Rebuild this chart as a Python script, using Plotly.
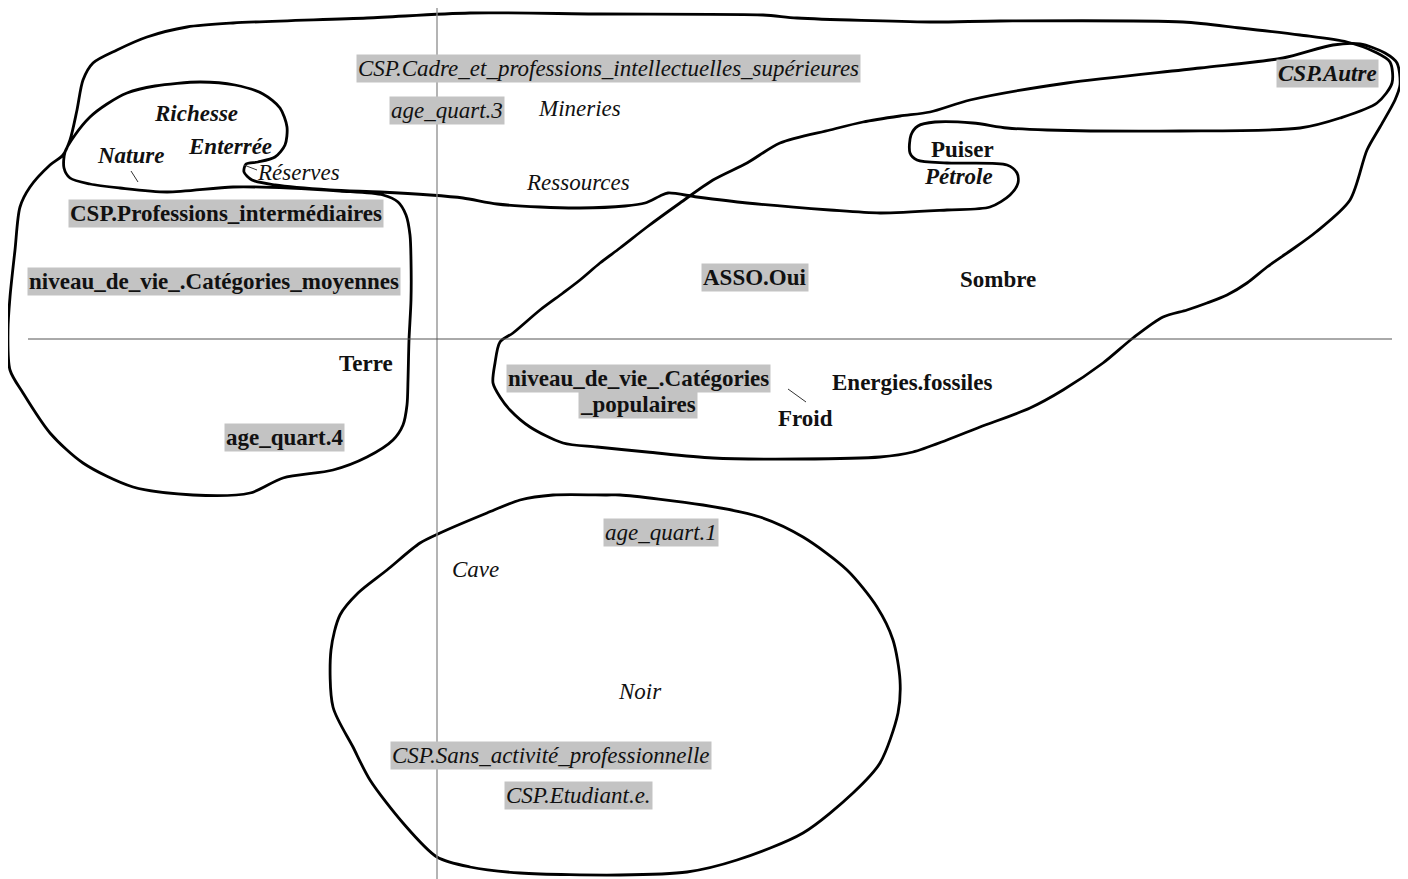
import plotly.graph_objects as go

# positions (picture units, y grows downward)
origin = (437, 339)

# words: bold / bold italic / italic
bold_words = ["Puiser", "Sombre", "Terre", "Energies.fossiles", "Froid"]
bold_words_x = [962, 998, 366, 912, 805]
bold_words_y = [149, 279, 363, 382, 418]

bolditalic_words = ["Richesse", "Enterrée", "Nature", "Pétrole"]
bolditalic_words_x = [196, 230, 130, 958]
bolditalic_words_y = [113, 146, 155, 176]

italic_words = ["Mineries", "Réserves", "Ressources", "Cave", "Noir"]
italic_words_x = [579, 298, 578, 475, 640]
italic_words_y = [108, 172, 182, 569, 691]

# modalities (highlighted)
bold_mods = ["CSP.Professions_intermédiaires", "niveau_de_vie_.Catégories_moyennes",
             "ASSO.Oui", "age_quart.4", "niveau_de_vie_.Catégories<br>_populaires"]
bold_mods_x = [226, 214, 755, 284, 638]
bold_mods_y = [213, 281, 277, 437, 391]

italic_mods = ["CSP.Cadre_et_professions_intellectuelles_supérieures", "age_quart.3",
               "age_quart.1", "CSP.Sans_activité_professionnelle", "CSP.Etudiant.e."]
italic_mods_x = [608, 447, 661, 551, 578]
italic_mods_y = [68, 110, 532, 755, 795]

bolditalic_mods = ["CSP.Autre"]
bolditalic_mods_x = [1327]
bolditalic_mods_y = [73]

# leader lines (label -> point)
leaders_x = [[131, 138], [244, 257], [788, 806]]
leaders_y = [[171, 182], [165, 170], [389, 402]]

# hand drawn groupings
loop1_x = [393, 403, 407, 408, 409, 411, 411, 410, 406, 398, 383, 340, 290, 233, 167, 120, 90, 70, 64, 65,
           75, 90, 107, 127, 155, 200, 235, 263, 280, 287, 285, 275, 258, 246, 244, 252, 275, 330, 380, 430,
           463, 497, 540, 580, 625, 645, 660, 668, 697, 747, 830, 880, 947, 990, 1010, 1018, 1017, 1007, 947, 917,
           910, 911, 918, 935, 973, 1007, 1047, 1180, 1300, 1340, 1377, 1392, 1390, 1375, 1347, 1300, 1240, 1183, 1000, 930,
           797, 763, 600, 470, 367, 233, 187, 147, 117, 93, 83, 77, 70, 63, 50, 30, 20, 15, 10, 8,
           10, 23, 50, 83, 133, 193, 250, 283, 333, 367, 393]
loop1_y = [440, 425, 405, 380, 340, 300, 260, 235, 215, 202, 195, 191, 188, 187, 192, 188, 184, 178, 168, 152,
           135, 117, 104, 93, 86, 82, 85, 94, 108, 127, 145, 157, 162, 164, 172, 180, 185, 190, 192, 195,
           198, 204, 207, 208, 206, 203, 196, 193, 197, 203, 210, 213, 210, 207, 195, 183, 173, 165, 163, 160,
           153, 135, 126, 122, 123, 128, 130, 131, 128, 118, 103, 83, 62, 52, 42, 35, 28, 22, 21, 22,
           18, 15, 14, 13, 18, 23, 27, 37, 50, 63, 80, 110, 140, 155, 165, 187, 207, 250, 297, 330,
           370, 393, 433, 463, 487, 495, 493, 478, 470, 457, 440]

loop2_x = [500, 513, 540, 563, 580, 600, 620, 647, 680, 713, 747, 780, 830, 863, 900, 930, 970, 1067, 1200, 1283,
           1333, 1360, 1385, 1397, 1400, 1395, 1380, 1367, 1350, 1316, 1290, 1267, 1247, 1227, 1207, 1187, 1163, 1133, 1103,
           1063, 1030, 980, 947, 913, 880, 800, 713, 647, 597, 563, 530, 510, 500, 493, 495, 500]
loop2_y = [342, 333, 310, 293, 280, 263, 248, 227, 203, 180, 163, 143, 130, 122, 116, 112, 100, 83, 68, 58,
           45, 44, 53, 63, 85, 100, 127, 150, 200, 232, 251, 267, 283, 295, 303, 310, 317, 338, 363,
           390, 408, 427, 440, 452, 457, 459, 458, 452, 447, 443, 427, 410, 397, 383, 363, 342]

loop3_x = [607, 553, 520, 487, 440, 420, 387, 358, 340, 331, 333, 353, 370, 403, 437, 470, 520, 620, 687, 737,
           803, 853, 880, 898, 900, 893, 877, 847, 803, 760, 703, 620, 607]
loop3_y = [495, 495, 500, 513, 533, 543, 570, 593, 615, 650, 707, 747, 780, 823, 857, 867, 873, 875, 872, 860,
           833, 793, 763, 713, 680, 640, 607, 570, 537, 517, 505, 495, 495]

FONT = "Liberation Serif"
SIZE = 23
GREY = "#c3c3c3"

# the page body keeps an 8px margin, so the figure covers picture units 8..1408 / 8..879
PAGE_MARGIN = 8
W, H = 1408, 879

fig = go.Figure()

# axes of the factor map
fig.add_shape(type="line", x0=origin[0], x1=origin[0], y0=0, y1=1, xref="x", yref="paper",
              line=dict(color="#8c8c8c", width=1.3))
fig.add_shape(type="line", x0=28, x1=1392, y0=origin[1], y1=origin[1],
              line=dict(color="#555555", width=1))

for lx, ly in [(loop1_x, loop1_y), (loop2_x, loop2_y), (loop3_x, loop3_y)]:
    fig.add_trace(go.Scatter(x=lx, y=ly, mode="lines",
                             line=dict(color="black", width=2.8, shape="spline", smoothing=0.8),
                             hoverinfo="skip"))

for lx, ly in zip(leaders_x, leaders_y):
    fig.add_trace(go.Scatter(x=lx, y=ly, mode="lines", line=dict(color="#333333", width=1), hoverinfo="skip"))


def add_labels(texts, xs, ys, weight, style, bg):
    for t, x, y in zip(texts, xs, ys):
        lines = t.split("<br>")
        for i, line in enumerate(lines):
            fig.add_annotation(x=x, y=y, text=line, showarrow=False, xanchor="center", yanchor="middle",
                               yshift=(len(lines) - 1) * 13 - i * 26,
                               font=dict(family=FONT, size=SIZE, color="#111111", weight=weight, style=style),
                               bgcolor=bg, borderpad=1)


add_labels(bold_words, bold_words_x, bold_words_y, "bold", "normal", None)
add_labels(bolditalic_words, bolditalic_words_x, bolditalic_words_y, "bold", "italic", None)
add_labels(italic_words, italic_words_x, italic_words_y, "normal", "italic", None)
add_labels(bold_mods, bold_mods_x, bold_mods_y, "bold", "normal", GREY)
add_labels(italic_mods, italic_mods_x, italic_mods_y, "normal", "italic", GREY)
add_labels(bolditalic_mods, bolditalic_mods_x, bolditalic_mods_y, "bold", "italic", GREY)

fig.update_layout(
    width=W - PAGE_MARGIN, height=H - PAGE_MARGIN,
    margin=dict(l=0, r=0, t=0, b=0),
    plot_bgcolor="white", paper_bgcolor="white",
    showlegend=False,
    xaxis=dict(range=[PAGE_MARGIN, W], visible=False),
    yaxis=dict(range=[H, PAGE_MARGIN], visible=False),
)

fig.write_html("out.html")
